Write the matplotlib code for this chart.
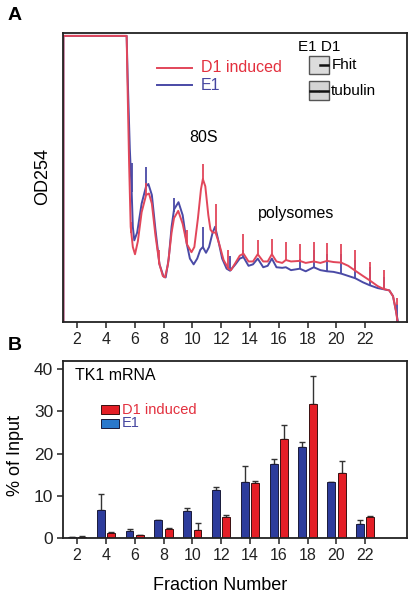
import matplotlib
matplotlib.use('Agg')
import matplotlib.pyplot as plt
from matplotlib.patches import Rectangle

plt.rcParams['font.family'] = ['Liberation Sans', 'DejaVu Sans']

# panel A: OD254 traces (fraction, relative OD)
red_x = [1.05, 1.05, 5.44, 5.51, 5.61, 5.72, 5.87, 6.02, 6.22, 6.48, 6.79, 6.99, 7.19, 7.44,
         7.72, 7.95, 8.10, 8.31, 8.56, 8.73, 9.02, 9.33, 9.62, 9.94, 10.14, 10.39, 10.60,
         10.73, 10.90, 11.11, 11.26, 11.41, 11.61, 11.87, 12.17, 12.51, 12.68, 12.99, 13.29,
         13.55, 13.90, 14.21, 14.54, 14.92, 15.23, 15.52, 15.84, 16.24, 16.49, 16.85, 17.46,
         17.87, 18.43, 18.89, 19.35, 19.80, 20.33, 20.82, 21.31, 21.84, 22.30, 22.86, 23.27,
         23.67, 23.93, 24.13, 24.25]
red_y = [0.0, 0.99, 0.99, 0.80, 0.55, 0.33, 0.26, 0.235, 0.28, 0.38, 0.44, 0.445, 0.41, 0.30,
         0.20, 0.16, 0.155, 0.20, 0.31, 0.36, 0.385, 0.34, 0.27, 0.242, 0.26, 0.36, 0.46,
         0.495, 0.47, 0.37, 0.32, 0.31, 0.31, 0.27, 0.215, 0.185, 0.18, 0.205, 0.23,
         0.237, 0.21, 0.21, 0.235, 0.21, 0.21, 0.235, 0.21, 0.205, 0.215, 0.21, 0.212,
         0.205, 0.21, 0.205, 0.212, 0.208, 0.206, 0.195, 0.178, 0.16, 0.145, 0.125, 0.115,
         0.11, 0.09, 0.04, 0.0]

blue_x = [1.05, 1.05, 5.44, 5.51, 5.66, 5.79, 5.87, 5.97, 6.17, 6.48, 6.79, 6.95, 7.19, 7.44,
          7.72, 8.00, 8.15, 8.36, 8.56, 8.73, 9.04, 9.33, 9.62, 9.83, 10.09, 10.34, 10.55,
          10.73, 10.95, 11.16, 11.41, 11.58, 11.77, 12.07, 12.38, 12.62, 12.99, 13.29, 13.55,
          13.90, 14.21, 14.54, 14.92, 15.23, 15.52, 15.84, 16.24, 16.49, 16.85, 17.46, 17.87,
          18.43, 18.89, 19.35, 19.80, 20.33, 20.82, 21.31, 21.84, 22.30, 22.86, 23.27, 23.67,
          23.93, 24.13, 24.28]
blue_y = [0.0, 0.99, 0.99, 0.85, 0.60, 0.45, 0.33, 0.283, 0.31, 0.41, 0.47, 0.478, 0.44, 0.32,
          0.20, 0.158, 0.155, 0.22, 0.33, 0.39, 0.415, 0.37, 0.27, 0.22, 0.20, 0.22, 0.25,
          0.26, 0.24, 0.26, 0.31, 0.33, 0.29, 0.22, 0.185, 0.178, 0.20, 0.22, 0.225,
          0.195, 0.20, 0.22, 0.19, 0.195, 0.22, 0.19, 0.188, 0.19, 0.18, 0.185, 0.176,
          0.19, 0.18, 0.176, 0.174, 0.168, 0.16, 0.152, 0.138, 0.128, 0.118, 0.114, 0.11,
          0.09, 0.04, 0.0]

# fraction collector marks (spikes on the traces)
red_spike_x = [5.72, 6.79, 7.72, 9.62, 10.73, 11.61, 12.51, 13.55, 14.54, 15.52, 16.49,
               17.46, 18.43, 19.35, 20.33, 21.31, 22.30, 23.27, 24.20]
red_spike_lo = [0.31, 0.44, 0.20, 0.27, 0.495, 0.31, 0.185, 0.237, 0.235, 0.235, 0.215,
                0.212, 0.21, 0.212, 0.206, 0.178, 0.145, 0.115, 0.06]
red_spike_hi = [0.345, 0.48, 0.25, 0.32, 0.547, 0.41, 0.25, 0.306, 0.285, 0.288, 0.277,
                0.27, 0.277, 0.274, 0.272, 0.249, 0.208, 0.18, 0.082]
blue_spike_x = [5.79, 6.79, 8.73, 10.73, 12.62, 13.55, 17.46, 18.43, 19.35, 20.33, 21.31,
                22.30, 23.27, 24.23]
blue_spike_lo = [0.45, 0.47, 0.38, 0.26, 0.178, 0.225, 0.185, 0.19, 0.176, 0.168, 0.152,
                 0.128, 0.114, 0.0]
blue_spike_hi = [0.55, 0.538, 0.43, 0.33, 0.23, 0.25, 0.22, 0.248, 0.237, 0.237, 0.214,
                 0.19, 0.156, 0.064]

# panel B: TK1 mRNA, % of input per fraction
fractions = [2, 4, 6, 8, 10, 12, 14, 16, 18, 20, 22]
e1_vals = [0.3, 6.7, 1.8, 4.3, 6.5, 11.4, 13.3, 17.6, 21.5, 13.2, 3.4]
e1_err = [0.1, 3.7, 0.3, 0.1, 0.6, 0.8, 3.7, 1.2, 1.3, 0.1, 0.9]
d1_vals = [0.4, 1.3, 0.7, 2.2, 1.9, 5.0, 13.0, 23.4, 31.6, 15.4, 4.9]
d1_err = [0.1, 0.1, 0.1, 0.2, 1.8, 0.5, 0.6, 3.3, 6.8, 2.9, 0.4]

RED_LINE = '#e2465a'
BLUE_LINE = '#4a4aa6'
RED_BAR = '#e41e26'
BLUE_BAR = '#2d3c9c'
RED_TXT = '#e3303e'
BLUE_TXT = '#4646a0'


def style_ticks(ax):
    for s in ax.spines.values():
        s.set_linewidth(1.3)
        s.set_color('#222222')
    ax.tick_params(direction='out', length=4, width=1.1, labelsize=11.5, pad=3,
                   colors='#222222')


fig = plt.figure(figsize=(4.17, 6.0), dpi=100)

# ---- panel A ----
axA = fig.add_axes([0.151, 0.463, 0.825, 0.482])
axA.plot(blue_x, blue_y, color=BLUE_LINE, lw=1.4)
axA.vlines(blue_spike_x, blue_spike_lo, blue_spike_hi, color=BLUE_LINE, lw=1.3)
axA.plot(red_x, red_y, color=RED_LINE, lw=1.4)
axA.vlines(red_spike_x, red_spike_lo, red_spike_hi, color=RED_LINE, lw=1.3)
axA.set_xlim(1.02, 24.9)
axA.set_ylim(0, 1.0)
axA.set_xticks(fractions)
axA.set_yticks([])
style_ticks(axA)

# legend lines
axA.plot([0.273, 0.375], [0.879, 0.879], color=RED_LINE, lw=1.4, transform=axA.transAxes)
axA.plot([0.273, 0.375], [0.820, 0.820], color=BLUE_LINE, lw=1.4, transform=axA.transAxes)
axA.text(0.401, 0.879, 'D1 induced', color=RED_TXT, fontsize=11.5, va='center',
         transform=axA.transAxes)
axA.text(0.401, 0.820, 'E1', color=BLUE_TXT, fontsize=11.5, va='center',
         transform=axA.transAxes)
axA.text(0.41, 0.637, '80S', fontsize=11.5, ha='center', va='center', transform=axA.transAxes)
axA.text(0.677, 0.377, 'polysomes', fontsize=11.5, ha='center', va='center',
         transform=axA.transAxes)

# western blot inset
axA.text(0.744, 0.952, 'E1 D1', fontsize=11, ha='center', va='center', transform=axA.transAxes)
axA.add_patch(Rectangle((0.715, 0.858), 0.058, 0.062, transform=axA.transAxes,
                        facecolor='#dcdcdc', edgecolor='#555555', lw=1.0))
axA.add_patch(Rectangle((0.715, 0.768), 0.058, 0.066, transform=axA.transAxes,
                        facecolor='#d4d4d4', edgecolor='#555555', lw=1.0))
axA.plot([0.747, 0.770], [0.889, 0.889], color='#111111', lw=1.8, transform=axA.transAxes)
axA.plot([0.719, 0.740], [0.801, 0.801], color='#111111', lw=1.8, transform=axA.transAxes)
axA.plot([0.748, 0.770], [0.801, 0.801], color='#111111', lw=1.8, transform=axA.transAxes)
axA.text(0.780, 0.889, 'Fhit', fontsize=11, va='center', transform=axA.transAxes)
axA.text(0.780, 0.801, 'tubulin', fontsize=11, va='center', transform=axA.transAxes)

fig.text(43 / 417, 1 - 177 / 600, 'OD254', rotation=90, fontsize=13, ha='center', va='center')
fig.text(15 / 417, 1 - 15 / 600, 'A', fontsize=14, fontweight='bold', ha='center', va='center')

# ---- panel B ----
axB = fig.add_axes([0.151, 0.103, 0.825, 0.295])
bx_e1 = [f - 0.36 for f in fractions]
bx_d1 = [f + 0.36 for f in fractions]
axB.bar(bx_e1, e1_vals, width=0.55, color=BLUE_BAR, edgecolor='#1a1a3a', lw=0.7, zorder=2)
axB.bar(bx_d1, d1_vals, width=0.55, color=RED_BAR, edgecolor='#3a1010', lw=0.7, zorder=2)
axB.errorbar(bx_e1, e1_vals, yerr=[[0] * len(e1_err), e1_err], fmt='none',
             ecolor='#333333', elinewidth=1.0, capsize=2, capthick=1.0, zorder=1)
axB.errorbar(bx_d1, d1_vals, yerr=[[0] * len(d1_err), d1_err], fmt='none',
             ecolor='#333333', elinewidth=1.0, capsize=2, capthick=1.0, zorder=1)
axB.set_xlim(1.02, 24.9)
axB.set_ylim(0, 41.8)
axB.set_xticks(fractions)
axB.set_yticks([0, 10, 20, 30, 40])
style_ticks(axB)
axB.tick_params(axis='y', labelsize=12.5)

axB.text(0.035, 0.92, 'TK1 mRNA', fontsize=11.5, va='center', transform=axB.transAxes)
axB.add_patch(Rectangle((0.110, 0.700), 0.054, 0.051, transform=axB.transAxes,
                        facecolor=RED_BAR, edgecolor='#3a1010', lw=0.7))
axB.add_patch(Rectangle((0.110, 0.625), 0.054, 0.051, transform=axB.transAxes,
                        facecolor='#2a78cc', edgecolor='#1a1a3a', lw=0.7))
axB.text(0.172, 0.727, 'D1 induced', color=RED_TXT, fontsize=10.5, va='center',
         transform=axB.transAxes)
axB.text(0.172, 0.650, 'E1', color=BLUE_TXT, fontsize=10.5, va='center',
         transform=axB.transAxes)

fig.text(16 / 417, 1 - 455 / 600, '% of Input', rotation=90, fontsize=13, ha='center',
         va='center')
fig.text(220 / 417, 1 - 585 / 600, 'Fraction Number', fontsize=13, ha='center', va='center')
fig.text(15 / 417, 1 - 345 / 600, 'B', fontsize=14, fontweight='bold', ha='center', va='center')

fig.savefig('out.png', dpi=100)
